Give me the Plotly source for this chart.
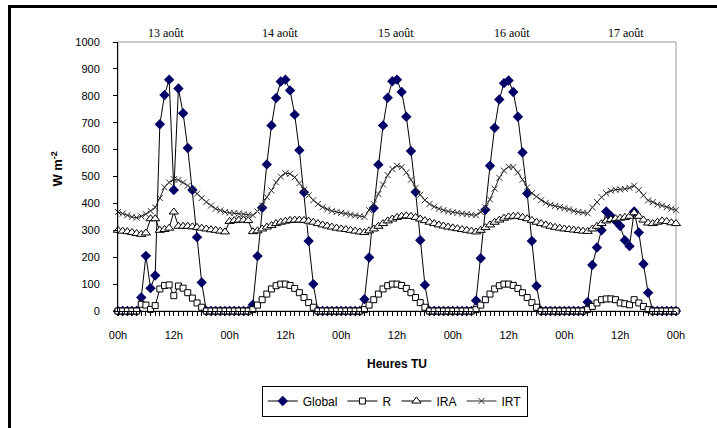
import plotly.graph_objects as go

hours = list(range(121))

tick_vals = [0, 12, 24, 36, 48, 60, 72, 84, 96, 108, 120]
tick_text = ["00h", "12h", "00h", "12h", "00h", "12h", "00h", "12h", "00h", "12h", "00h"]
day_labels = ["13 août", "14 août", "15 août", "16 août", "17 août"]

global_vals = (
    [0, 0, 0, 0, 0,
     50, 205, 85, 132, 694, 803, 860, 450, 827, 735, 606, 450, 274, 106]
    + [0] * 10
    + [23, 204, 384, 545, 690, 792, 853, 860, 820, 730, 598, 441, 260, 100]
    + [0] * 10
    + [44, 199, 383, 544, 690, 793, 854, 860, 814, 722, 595, 442, 263, 97]
    + [0] * 10
    + [39, 196, 376, 540, 681, 786, 847, 857, 814, 722, 589, 437, 260, 93]
    + [0] * 10
    + [33, 171, 236, 300, 370, 353, 335, 316, 263, 241, 370, 292, 175, 68]
    + [0] * 6
)

r_vals = (
    [0, 0, 0, 0, 0,
     25, 22, 6, 20, 82, 95, 97, 57, 93, 85, 68, 48, 30, 14]
    + [0] * 10
    + [5, 22, 42, 63, 82, 94, 100, 100, 95, 84, 68, 50, 31, 14]
    + [0] * 10
    + [5, 22, 42, 63, 82, 94, 100, 100, 95, 84, 68, 50, 31, 14]
    + [0] * 10
    + [5, 22, 42, 63, 82, 94, 100, 100, 95, 84, 68, 50, 31, 14]
    + [0] * 10
    + [5, 17, 30, 42, 45, 45, 42, 30, 27, 23, 42, 30, 17, 5]
    + [0] * 6
)

ira_vals = [
    300, 297, 295, 292, 288, 285, 290, 343, 343, 300, 303, 308, 368, 315, 315, 315, 313, 311, 308, 305, 302, 300, 297, 294,
    333, 336, 338, 338, 336, 295, 298, 305, 312, 318, 325, 330, 334, 337, 338, 338, 337, 334, 330, 325, 320, 316, 312, 308,
    305, 303, 300, 297, 294, 292, 298, 305, 315, 325, 335, 342, 348, 352, 354, 352, 348, 342, 336, 330, 325, 320, 316, 312,
    309, 306, 303, 300, 297, 294, 300, 310, 320, 330, 338, 345, 350, 352, 352, 348, 343, 337, 330, 325, 320, 315, 311, 308,
    305, 303, 301, 299, 297, 296, 305, 315, 325, 335, 340, 343, 345, 348, 352, 365, 352, 338, 327, 325, 330, 335, 333, 328,
    325,
]

irt_vals = [
    368, 362, 356, 350, 347, 352, 360, 372, 385, 420, 460, 478, 490, 487, 478, 466, 452, 436, 420, 405, 392, 380, 374, 368,
    365, 364, 362, 360, 358, 356, 370, 392, 423, 448, 478, 500, 512, 510, 497, 475, 450, 430, 412, 398, 386, 378, 372, 368,
    365, 362, 358, 355, 352, 350, 375, 398, 435, 470, 505, 528, 540, 535, 515, 488, 458, 432, 412, 398, 388, 380, 375, 370,
    367, 365, 362, 360, 358, 356, 368, 385, 415, 455, 495, 522, 536, 535, 515, 488, 460, 438, 425, 412, 402, 395, 390, 386,
    382, 378, 372, 368, 366, 363, 385, 405, 423, 438, 447, 451, 452, 454, 458, 466, 450, 430, 411, 405, 396, 392, 386, 380,
    375,
]

FONT = "Liberation Sans, Arial, sans-serif"
SERIF = "Liberation Serif, Times New Roman, serif"

fig = go.Figure()

fig.add_trace(go.Scatter(
    x=hours, y=global_vals, name="Global", mode="lines+markers",
    line=dict(color="black", width=1),
    marker=dict(symbol="diamond", size=8, color="#000066", line=dict(color="#000066", width=0)),
    cliponaxis=False,
))
fig.add_trace(go.Scatter(
    x=hours, y=r_vals, name="R", mode="lines+markers",
    line=dict(color="black", width=1),
    marker=dict(symbol="square", size=6, color="white", line=dict(color="black", width=1)),
    cliponaxis=False,
))
fig.add_trace(go.Scatter(
    x=hours, y=ira_vals, name="IRA", mode="lines+markers",
    line=dict(color="black", width=1),
    marker=dict(symbol="triangle-up", size=8, color="white", line=dict(color="black", width=1)),
    cliponaxis=False,
))
fig.add_trace(go.Scatter(
    x=hours, y=irt_vals, name="IRT", mode="lines+markers",
    line=dict(color="#222222", width=1),
    marker=dict(symbol="x-thin", size=6, color="#333333", line=dict(color="#333333", width=1)),
    cliponaxis=False,
))

annotations = []
for lab, pos in zip(day_labels, [10.3, 34.8, 59.8, 84.7, 109.2]):
    annotations.append(dict(
        x=pos, y=1.033, xref="x", yref="paper", text=lab, showarrow=False,
        xanchor="center", yanchor="middle", font=dict(family=SERIF, size=12, color="black"),
    ))
annotations.append(dict(
    x=-0.109, y=0.53, xref="paper", yref="paper", text="<b>W m<sup>-2</sup></b>",
    showarrow=False, textangle=-90, xanchor="center", yanchor="middle",
    font=dict(family=FONT, size=13, color="black"),
))

# plot area is 558 x 271 px starting at (118, 42); frame bars placed in pixels
shapes = [
    dict(type="rect", xref="paper", yref="paper", x0=0, y0=0, x1=1, y1=1,
         line=dict(color="#9a9a9a", width=1), layer="below"),
    dict(type="rect", xref="paper", yref="paper",
         xsizemode="pixel", xanchor=0, x0=-110, x1=610,
         ysizemode="pixel", yanchor=1, y0=34, y1=37,
         fillcolor="black", line=dict(width=0), layer="above"),
    dict(type="rect", xref="paper", yref="paper",
         xsizemode="pixel", xanchor=0, x0=-110, x1=-107,
         ysizemode="pixel", yanchor=1, y0=-400, y1=37,
         fillcolor="black", line=dict(width=0), layer="above"),
]

fig.update_layout(
    width=717, height=428, autosize=False,
    margin=dict(l=118, r=41, t=42, b=115),
    paper_bgcolor="white", plot_bgcolor="white",
    font=dict(family=FONT, size=11, color="black"),
    showlegend=True,
    legend=dict(
        orientation="h", x=0.496, xanchor="center", y=-0.277, yanchor="top",
        bordercolor="black", borderwidth=1, bgcolor="white",
        font=dict(family=FONT, size=12, color="black"),
        itemwidth=30, tracegroupgap=0,
    ),
    annotations=annotations,
    shapes=shapes,
)

fig.update_xaxes(
    range=[0, 120], tickmode="array", tickvals=tick_vals, ticktext=tick_text,
    showline=True, linecolor="black", linewidth=1, mirror=False,
    ticks="outside", ticklen=4, tickcolor="black", tickwidth=1,
    ticklabelstandoff=10,
    minor=dict(ticks="outside", dtick=1, tick0=0, ticklen=4, tickcolor="black", tickwidth=1, showgrid=False),
    showgrid=False, zeroline=False, automargin=False,
    tickfont=dict(family=FONT, size=11, color="black"),
    title=dict(text="<b>Heures TU</b>", font=dict(family=FONT, size=12, color="black"), standoff=19),
)
fig.update_yaxes(
    range=[0, 1000], dtick=100, tick0=0,
    showline=True, linecolor="black", linewidth=1, automargin=False,
    ticks="outside", ticklen=4, tickcolor="black", tickwidth=1,
    ticklabelstandoff=11,
    showgrid=False, zeroline=False,
    tickfont=dict(family=FONT, size=11, color="black"),
)

fig.write_html(
    "out.html",
    config={"displayModeBar": False},
    post_script="document.body.style.margin='0';document.body.style.overflow='hidden';",
)
